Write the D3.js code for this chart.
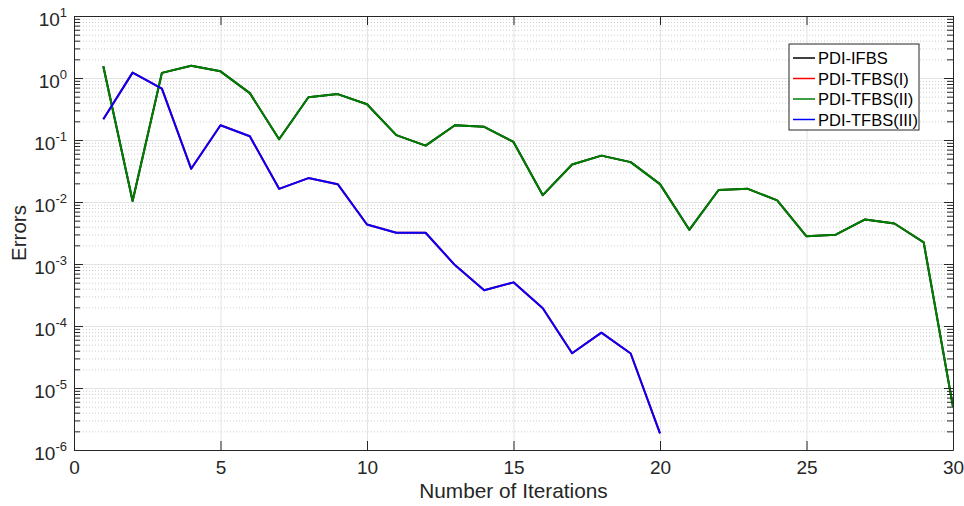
<!DOCTYPE html>
<html>
<head>
<meta charset="utf-8">
<script src="https://cdn.jsdelivr.net/npm/d3@7"></script>
<style>
  body { margin: 0; background: #fff; }
  svg { font-family: "Liberation Sans", Arial, sans-serif; }
</style>
</head>
<body>
<div id="chart"></div>
<script>
// values
var iterations = d3.range(1, 31)
var errGreen = [1.55, 0.0104, 1.21, 1.58, 1.28, 0.57, 0.103, 0.49, 0.55, 0.378,
	0.12, 0.081, 0.173, 0.163, 0.093, 0.0129, 0.0403, 0.056, 0.044, 0.0194,
	0.00356, 0.0156, 0.0163, 0.0106, 0.00279, 0.00297, 0.00524, 0.0045, 0.00223, 4.97e-6]
var errBlue = [0.216, 1.22, 0.674, 0.0343, 0.173, 0.115, 0.0163, 0.0243, 0.0194, 0.00434,
	0.00319, 0.00319, 0.00096, 0.000376, 0.000506, 0.000193, 3.63e-5, 7.8e-5, 3.6e-5, 1.85e-6]
var seriesNames = ['PDI-IFBS', 'PDI-TFBS(I)', 'PDI-TFBS(II)', 'PDI-TFBS(III)']
var seriesColors = ['#000000', '#ff0000', '#007f00', '#0000ff']
var seriesValues = [errGreen, errBlue, errGreen, errBlue]
var xTicks = [0, 5, 10, 15, 20, 25, 30]
var yExponents = [-6, -5, -4, -3, -2, -1, 0, 1]

var W = 964, H = 506
var m = {left: 74, right: 953, top: 16, bottom: 450}
var axisColor = '#262626'

var svg = d3.select('#chart').append('svg').attr('width', W).attr('height', H)

var x = d3.scaleLinear().domain([0, 30]).range([m.left, m.right])
var y = d3.scaleLog().domain([1e-6, 10]).range([m.bottom, m.top])

var majorY = yExponents.map(function (e) { return Math.pow(10, e) })
var minorY = []
yExponents.slice(0, -1).forEach(function (e) {
	for (var k = 2; k <= 9; k++) minorY.push(k * Math.pow(10, e))
})

// minor grid (dotted)
svg.append('g').attr('transform', 'translate(' + m.left + ',0)')
	.call(d3.axisLeft(y).tickValues(minorY).tickSize(-(m.right - m.left)).tickFormat(''))
	.call(function (g) {
		g.select('.domain').remove()
		g.selectAll('line').attr('stroke', '#cfcfcf').attr('stroke-dasharray', '1,2')
	})
// major grid
svg.append('g').attr('transform', 'translate(' + m.left + ',0)')
	.call(d3.axisLeft(y).tickValues(majorY).tickSize(-(m.right - m.left)).tickFormat(''))
	.call(function (g) {
		g.select('.domain').remove()
		g.selectAll('line').attr('stroke', '#e3e3e3')
	})
svg.append('g').attr('transform', 'translate(0,' + m.bottom + ')')
	.call(d3.axisBottom(x).tickValues(xTicks).tickSize(-(m.bottom - m.top)).tickFormat(''))
	.call(function (g) {
		g.select('.domain').remove()
		g.selectAll('line').attr('stroke', '#e3e3e3')
	})

// lines
var line = d3.line()
	.x(function (d, i) { return x(iterations[i]) })
	.y(function (d) { return y(d) })

seriesValues.forEach(function (vals, s) {
	svg.append('path')
		.datum(vals)
		.attr('d', line)
		.attr('fill', 'none')
		.attr('stroke', seriesColors[s])
		.attr('stroke-width', 2)
		.attr('stroke-linejoin', 'round')
})

// axes box with inward ticks
var styleAxis = function (g) {
	g.selectAll('line').attr('stroke', axisColor)
	g.selectAll('.domain').attr('stroke', axisColor)
}
var bottom = svg.append('g').attr('transform', 'translate(0,' + m.bottom + ')')
	.call(d3.axisBottom(x).tickValues(xTicks).tickSizeInner(-9).tickSizeOuter(0).tickPadding(14))
	.call(styleAxis)
bottom.selectAll('text').attr('font-size', 19).attr('fill', axisColor)
	.attr('font-family', 'Liberation Sans, Arial, sans-serif')
	.attr('dy', null).attr('y', 24)
svg.append('g').attr('transform', 'translate(0,' + m.top + ')')
	.call(d3.axisTop(x).tickValues(xTicks).tickSizeInner(-9).tickSizeOuter(0).tickFormat(''))
	.call(styleAxis)

var left = svg.append('g').attr('transform', 'translate(' + m.left + ',0)')
	.call(d3.axisLeft(y).tickValues(majorY).tickSizeInner(-9).tickSizeOuter(0).tickFormat(''))
	.call(styleAxis)
svg.append('g').attr('transform', 'translate(' + m.left + ',0)')
	.call(d3.axisLeft(y).tickValues(minorY).tickSizeInner(-6).tickSizeOuter(0).tickFormat(''))
	.call(styleAxis).select('.domain').remove()
svg.append('g').attr('transform', 'translate(' + m.right + ',0)')
	.call(d3.axisRight(y).tickValues(majorY).tickSizeInner(-9).tickSizeOuter(0).tickFormat(''))
	.call(styleAxis)
svg.append('g').attr('transform', 'translate(' + m.right + ',0)')
	.call(d3.axisRight(y).tickValues(minorY).tickSizeInner(-6).tickSizeOuter(0).tickFormat(''))
	.call(styleAxis).select('.domain').remove()

// y tick labels 10^k
left.selectAll('.tick').each(function (d) {
	var t = d3.select(this).append('text')
		.attr('x', -7).attr('y', 9)
		.attr('text-anchor', 'end')
		.attr('fill', axisColor)
		.attr('font-size', 19)
		.attr('font-family', 'Liberation Sans, Arial, sans-serif')
	t.append('tspan').text('10')
	t.append('tspan').attr('dy', -9).attr('font-size', 13).text(Math.round(Math.log10(d)))
})

// axis titles
svg.append('text')
	.attr('x', (m.left + m.right) / 2).attr('y', 498)
	.attr('text-anchor', 'middle').attr('font-size', 20.8).attr('fill', axisColor)
	.text('Number of Iterations')
svg.append('text')
	.attr('transform', 'translate(26,' + ((m.top + m.bottom) / 2) + ') rotate(-90)')
	.attr('text-anchor', 'middle').attr('font-size', 20.5).attr('fill', axisColor)
	.text('Errors')

// legend
var lg = svg.append('g').attr('transform', 'translate(789,44)')
lg.append('rect').attr('width', 130).attr('height', 86)
	.attr('fill', '#fff').attr('stroke', axisColor).attr('stroke-width', 1)
seriesNames.forEach(function (name, i) {
	var yy = 14 + i * 20.5
	lg.append('line').attr('x1', 4).attr('x2', 26).attr('y1', yy).attr('y2', yy)
		.attr('stroke', seriesColors[i]).attr('stroke-width', 1.5)
	lg.append('text').attr('x', 29).attr('y', yy + 6)
		.attr('font-size', 16.5).attr('fill', '#000').text(name)
})
</script>
</body>
</html>
